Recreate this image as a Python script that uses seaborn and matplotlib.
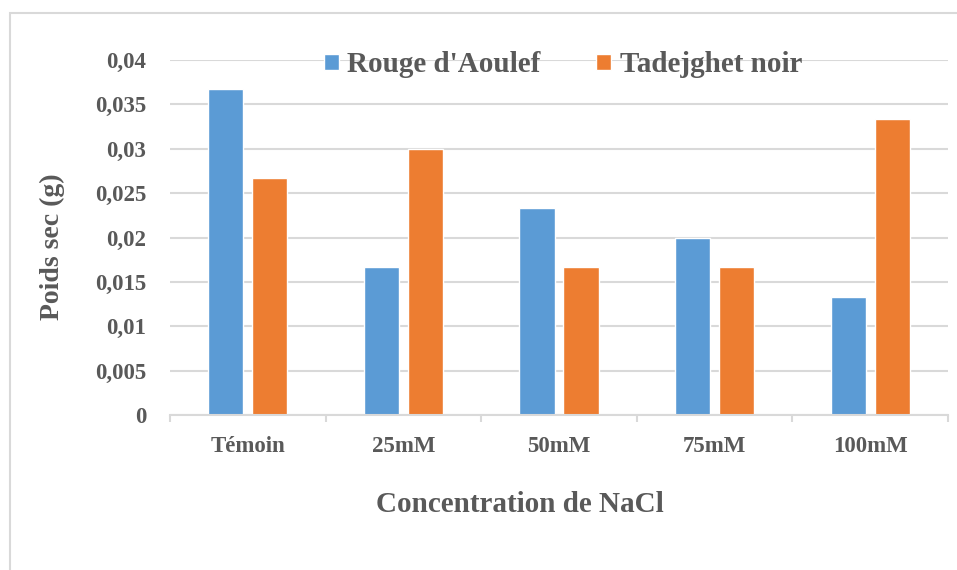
import pandas as pd
import matplotlib.pyplot as plt
import matplotlib.patches as patches
from matplotlib.ticker import FuncFormatter, FixedLocator
import seaborn as sns

# data
concentrations = ["Témoin", "25mM", "50mM", "75mM", "100mM"]
rouge_aoulef = [0.0367, 0.0167, 0.0233, 0.0200, 0.0133]
tadejghet_noir = [0.0267, 0.0300, 0.0167, 0.0167, 0.0333]
varieties = ["Rouge d'Aoulef", "Tadejghet noir"]
colors = ["#5b9bd5", "#ed7d31"]

df = pd.DataFrame({
    "Concentration": concentrations * 2,
    "Variete": [varieties[0]] * 5 + [varieties[1]] * 5,
    "Poids": rouge_aoulef + tadejghet_noir,
})

sns.set_theme(style="white")
serif = ["Liberation Serif", "DejaVu Serif"]
plt.rcParams["font.family"] = serif
plt.rcParams["font.weight"] = "bold"
text_color = "#595959"
grid_color = "#d9d9d9"

fig = plt.figure(figsize=(9.57, 5.7), dpi=100)
ax = fig.add_axes([170 / 957, 1 - 415 / 570, (948 - 170) / 957, (415 - 60) / 570])

sns.barplot(data=df, x="Concentration", y="Poids", hue="Variete",
            order=concentrations, hue_order=varieties, palette=colors,
            width=0.566, gap=0.2, saturation=1, ax=ax, legend=True)

ax.set_ylim(0, 0.04)
ax.set_xlim(-0.5, 4.5)
ax.set_yticks([i * 0.005 for i in range(9)])
ax.yaxis.set_major_formatter(FuncFormatter(
    lambda v, p: "0" if v == 0 else f"{v:g}".replace(".", ",")))
ax.yaxis.grid(True, color=grid_color, linewidth=1.5)
ax.set_axisbelow(True)

for side in ["top", "right", "left"]:
    ax.spines[side].set_visible(False)
ax.spines["bottom"].set_color(grid_color)
ax.spines["bottom"].set_linewidth(1.5)

ax.tick_params(axis="y", length=0, pad=17, labelsize=16.5, labelcolor=text_color)
ax.tick_params(axis="x", which="major", length=0, pad=15, labelsize=16.5, labelcolor=text_color)
ax.xaxis.set_minor_locator(FixedLocator([-0.5, 0.5, 1.5, 2.5, 3.5, 4.5]))
ax.tick_params(axis="x", which="minor", length=5, width=1.5, color=grid_color, bottom=True)
for lab in ax.get_xticklabels() + ax.get_yticklabels():
    lab.set_fontweight("bold")
    lab.set_family(serif)

ax.set_xlabel("Concentration de NaCl", fontsize=21, fontweight="bold",
              color=text_color, family=serif)
ax.xaxis.set_label_coords((520 - 170) / (948 - 170), -(491 - 415) / (415 - 60))
ax.set_ylabel("Poids sec (g)", fontsize=20, fontweight="bold",
              color=text_color, family=serif)
ax.yaxis.set_label_coords(-(170 - 65) / (948 - 170), (415 - 247) / (415 - 60))

handles, labels = ax.get_legend_handles_labels()
ax.legend(handles, labels, loc="center", bbox_to_anchor=(563 / 957, 1 - 65 / 570),
          bbox_transform=fig.transFigure, ncol=2, frameon=False,
          handlelength=0.5, handleheight=0.5, handletextpad=0.3,
          columnspacing=1.9, prop={"family": serif, "size": 21, "weight": "bold"},
          labelcolor=text_color)

# light frame around the chart area
fig.patches.append(patches.Rectangle((10 / 957, -0.05), 1.0, 1 - 13 / 570 + 0.05,
                                     transform=fig.transFigure, fill=False,
                                     edgecolor=grid_color, linewidth=1.5))

fig.savefig("out.png", dpi=100)
